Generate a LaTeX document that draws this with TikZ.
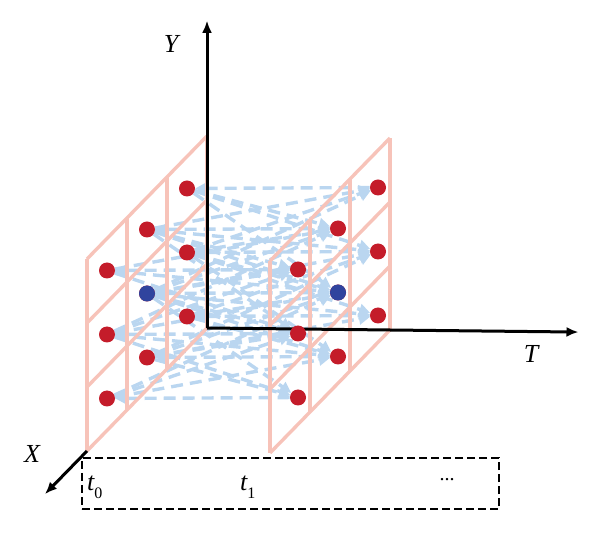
\documentclass[tikz,border=0pt]{standalone}
\usepackage{fontspec}
\setmainfont{Liberation Serif}
\usetikzlibrary{arrows.meta}
\definecolor{gridpink}{RGB}{247,195,185}
\definecolor{flowblue}{RGB}{186,214,240}
\definecolor{dotred}{RGB}{196,28,42}
\definecolor{dotblue}{RGB}{48,68,158}
\pgfdeclarelayer{back}
\pgfsetlayers{back,main}
\newcommand{\slotidx}[1]{\raisebox{-8pt}{\fontsize{16}{18}\selectfont\upshape #1}}
\tikzset{
  axis/.style={line width=3pt, -{Latex[length=12pt,width=10pt]}},
  gridline/.style={gridpink, line width=3.4pt},
  flow/.style={flowblue, line width=3.4pt, dash pattern=on 12pt off 7pt,
    -{Triangle[length=11pt,width=11pt]}},
  sample/.style={circle, fill=dotred, inner sep=0pt, minimum size=16pt},
  lbl/.style={font=\fontsize{26}{30}\selectfont\itshape, inner sep=0pt},
}
\begin{document}
\begin{tikzpicture}[x=1pt,y=-1pt]
    \useasboundingbox (0,0) rectangle (600,534);
    \begin{scope}[shift={(207,328)}, x={(-40pt,-41pt)}, y={(0pt,64pt)}, z={(183pt,-2pt)}]
        \coordinate (O) at (0,0,0);
        \coordinate (Ytip) at (0,4.8,0);
        \coordinate (Ttip) at (0,0,2.03);
        \coordinate (Xfoot) at (3,0,0);
        \coordinate (Xtip) at (4.05,0,0);
        \foreach \a in {0,1,2}
            \foreach \b in {0,1,2} {
                \node[sample] (L\a\b) at (\a+0.5,\b+0.5,0) {};
                \node[sample, xshift=8pt, yshift=3pt] (R\a\b) at (\a+0.5,\b+0.5,1) {};
            }
        \node[sample, fill=dotblue] (L11) at (1.5,1.5,0) {};
        \node[sample, fill=dotblue, xshift=8pt, yshift=3pt] (R11) at (1.5,1.5,1) {};
        \begin{pgfonlayer}{back}
            \foreach \a in {0,1,2}
                \foreach \b in {0,1,2} {
                    \draw[flow, {Triangle[length=11pt,width=11pt]}-] (L\a\b) -- (R\a\b);
                    \foreach \p/\q in {-1/-1,-1/0,-1/1,0/-1,0/1,1/-1,1/0,1/1} {
                        \pgfmathtruncatemacro{\na}{\a+\p}
                        \pgfmathtruncatemacro{\nb}{\b+\q}
                        \ifnum\na>-1 \ifnum\na<3 \ifnum\nb>-1 \ifnum\nb<3
                            \draw[flow] (L\a\b) -- (R\na\nb);
                        \fi\fi\fi\fi
                    }
                }
            \foreach \c in {0,1}
                \foreach \k in {0,...,3} {
                    \draw[gridline] (\k,0,\c) -- (\k,3,\c);
                    \draw[gridline] (0,\k,\c) -- (3,\k,\c);
                }
            \draw[axis] (O) -- (Ytip);
            \draw[axis] (O) -- (Ttip);
            \draw[axis] (Xfoot) -- (Xtip);
        \end{pgfonlayer}
    \end{scope}
    \node[lbl] (Ylab) at (171,44) {Y};
    \node[lbl] (Xlab) at (32,454) {X};
    \node[lbl] (Tlab) at (531,354) {T};
    \node[draw, line width=2.4pt, dash pattern=on 8pt off 4pt, minimum width=417pt,
        minimum height=51pt, inner sep=0pt] (slots) at (290.5,483.5) {};
    \node[lbl, anchor=base west] (t0) at (87,490) {t\slotidx{0}};
    \node[lbl, anchor=base west] (t1) at (240,490) {t\slotidx{1}};
    \node[font=\fontsize{20}{24}\selectfont, inner sep=0pt] (more) at (447,480) {...};
\end{tikzpicture}
\end{document}
